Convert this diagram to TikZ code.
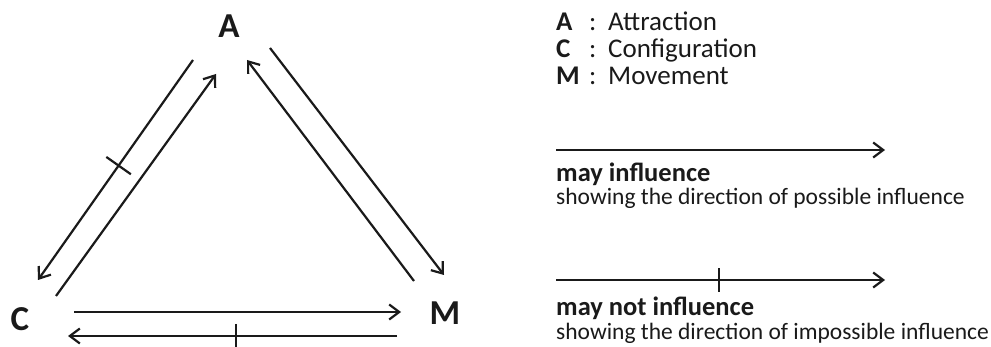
\documentclass[tikz,border=0pt]{standalone}
\usepackage{fontspec}
\setmainfont{Carlito}
\usetikzlibrary{arrows.meta,calc}
\definecolor{ink}{HTML}{1A1A1A}
\begin{document}
\begin{tikzpicture}[x=1pt,y=-1pt,
  conn/.style={line width=2.2pt, draw=ink, -{Straight Barb[length=10pt,width=15pt,line width=2.2pt]}},
  tickmark/.style={line width=2.2pt, draw=ink},
  big/.style={font=\fontsize{35}{40}\selectfont\bfseries, text=ink, inner sep=0pt, anchor=base},
  keyletter/.style={font=\fontsize{27}{31}\selectfont\bfseries, text=ink, inner sep=0pt, anchor=base west},
  keytext/.style={font=\fontsize{27}{31}\selectfont, text=ink, inner sep=0pt, anchor=base west},
  keyhead/.style={font=\fontsize{26.5}{30}\selectfont\bfseries, text=ink, inner sep=0pt, anchor=base west},
  keysub/.style={font=\fontsize{23.5}{27}\selectfont, text=ink, inner sep=0pt, anchor=base west}]
\fill[white] (0,0) rectangle (991,347);
\useasboundingbox (0,0) rectangle (991,347);

% vertex labels
\node[big] (A) at (229,38) {A};
\node[big] (C) at (20,331) {C};
\node[big] (M) at (445,325) {M};

% connector end points
\coordinate (ac1) at (193,60);  \coordinate (ac2) at (38,280);
\coordinate (ca1) at (56,296);  \coordinate (ca2) at (216,74);
\coordinate (ma1) at (414,281); \coordinate (ma2) at (247,60);
\coordinate (am1) at (270,48);  \coordinate (am2) at (444,275);
\coordinate (cm1) at (74,312);  \coordinate (cm2) at (401,312);
\coordinate (mc1) at (397,336); \coordinate (mc2) at (68,336);

\draw[conn] (ac1) -- coordinate[pos=0.48] (t1) (ac2);
\draw[tickmark] ($(t1)!15pt!90:(ac1)$) -- ($(t1)!15pt!-90:(ac1)$);
\draw[conn] (ca1) -- (ca2);
\draw[conn] (ma1) -- (ma2);
\draw[conn] (am1) -- (am2);
\draw[conn] (cm1) -- (cm2);
\draw[conn] (mc1) -- coordinate[pos=0.49] (t2) (mc2);
\draw[tickmark] ($(t2)!12pt!90:(mc1)$) -- ($(t2)!12pt!-90:(mc1)$);

% legend
\node[keyletter] (kA) at (556,31) {A};
\node[keytext] (kAc) at (589,31) {:};
\node[keytext] (kAt) at (608,31) {Attraction};
\node[keyletter] (kC) at (556,58) {C};
\node[keytext] (kCc) at (589,58) {:};
\node[keytext] (kCt) at (608,58) {Configuration};
\node[keyletter] (kM) at (556,85) {M};
\node[keytext] (kMc) at (589,85) {:};
\node[keytext] (kMt) at (608,85) {Movement};

\coordinate (l1a) at (556,150); \coordinate (l1b) at (885,150);
\draw[conn] (l1a) -- (l1b);
\node[keyhead] (h1) at (556,182) {may influence};
\node[keysub] (s1) at (556,205) {showing the direction of possible influence};

\coordinate (l2a) at (556,280); \coordinate (l2b) at (885,280);
\draw[conn] (l2a) -- coordinate[pos=0.495] (t3) (l2b);
\draw[tickmark] ($(t3)!12pt!90:(l2a)$) -- ($(t3)!12pt!-90:(l2a)$);
\node[keyhead] (h2) at (556,316) {may not influence};
\node[keysub] (s2) at (556,340) {showing the direction of impossible influence};
\end{tikzpicture}
\end{document}
